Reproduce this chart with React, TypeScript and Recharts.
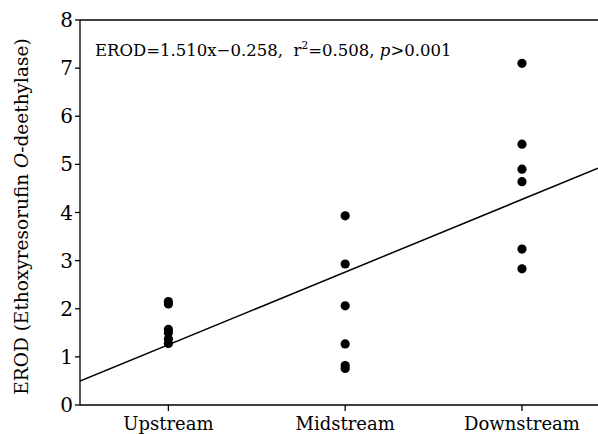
import {
  ComposedChart,
  Scatter,
  Line,
  XAxis,
  YAxis,
  ReferenceLine,
} from "recharts";

// site positions on the x axis and their names
const siteTicks = [1, 2, 3];
const siteNames = ["Upstream", "Midstream", "Downstream"];

const upstream = [2.15, 2.1, 1.57, 1.5, 1.37, 1.28];
const midstream = [3.93, 2.93, 2.06, 1.27, 0.82, 0.76];
const downstream = [7.1, 5.42, 4.9, 4.64, 3.24, 2.83];

// fitted line EROD = 1.510x - 0.258, end points at the plot edges
const fitX = [0.5, 3.43];
const fitY = [0.497, 4.921];

const yTicks = [0, 1, 2, 3, 4, 5, 6, 7, 8];

const points = [
  ...upstream.map((y) => ({ x: 1, y })),
  ...midstream.map((y) => ({ x: 2, y })),
  ...downstream.map((y) => ({ x: 3, y })),
];
const fitLine = fitX.map((x, i) => ({ x, y: fitY[i] }));

const font = "'DejaVu Serif', 'Liberation Serif', serif";

// y axis title with the italic O
const YTitle = (props: any) => {
  const vb = props.viewBox || {};
  const cy = (vb.y ?? 20) + (vb.height ?? 385) / 2 + 4;
  const cx = 28;
  return (
    <text
      x={cx}
      y={cy}
      transform={`rotate(-90, ${cx}, ${cy})`}
      textAnchor="middle"
      fontSize={18.5}
      fontFamily={font}
      fill="#000"
    >
      EROD (Ethoxyresorufin <tspan fontStyle="italic">O</tspan>-deethylase)
    </text>
  );
};

export default function App() {
  return (
    <div
      style={{
        position: "absolute",
        left: 0,
        top: 0,
        width: 598,
        height: 434,
        background: "#fff",
        fontFamily: font,
      }}
    >
      <ComposedChart
        width={598}
        height={434}
        margin={{ top: 20, right: 0, left: 0, bottom: 0 }}
      >
        <XAxis
          type="number"
          dataKey="x"
          domain={[0.5, 3.43]}
          ticks={siteTicks}
          allowDataOverflow
          tickFormatter={(v) => siteNames[siteTicks.indexOf(v)] ?? ""}
          tick={{ fontSize: 18, fill: "#000", fontFamily: font, dy: 4 }}
          stroke="#000"
          strokeWidth={1.3}
          tickSize={6}
          height={29}
          interval={0}
        />
        <YAxis
          type="number"
          dataKey="y"
          domain={[0, 8]}
          ticks={yTicks}
          tick={{ fontSize: 20, fill: "#000", fontFamily: font }}
          stroke="#000"
          strokeWidth={1.3}
          tickSize={5}
          width={80}
          label={<YTitle />}
        />
        <ReferenceLine y={8} stroke="#000" strokeWidth={1.3} />
        <Line
          data={fitLine}
          dataKey="y"
          type="linear"
          stroke="#000"
          strokeWidth={1.5}
          dot={false}
          activeDot={false}
          isAnimationActive={false}
        />
        <Scatter
          data={points}
          dataKey="y"
          fill="#000"
          shape={(p: any) => <circle cx={p.cx} cy={p.cy} r={4.6} fill="#000" />}
          isAnimationActive={false}
        />
      </ComposedChart>
      <div
        style={{
          position: "absolute",
          left: 95,
          top: 39,
          fontSize: 16.5,
          color: "#000",
          whiteSpace: "pre",
        }}
      >
        EROD=1.510x−0.258,  r<sup style={{ fontSize: 11 }}>2</sup>=0.508,{" "}
        <i>p</i>&gt;0.001
      </div>
    </div>
  );
}
